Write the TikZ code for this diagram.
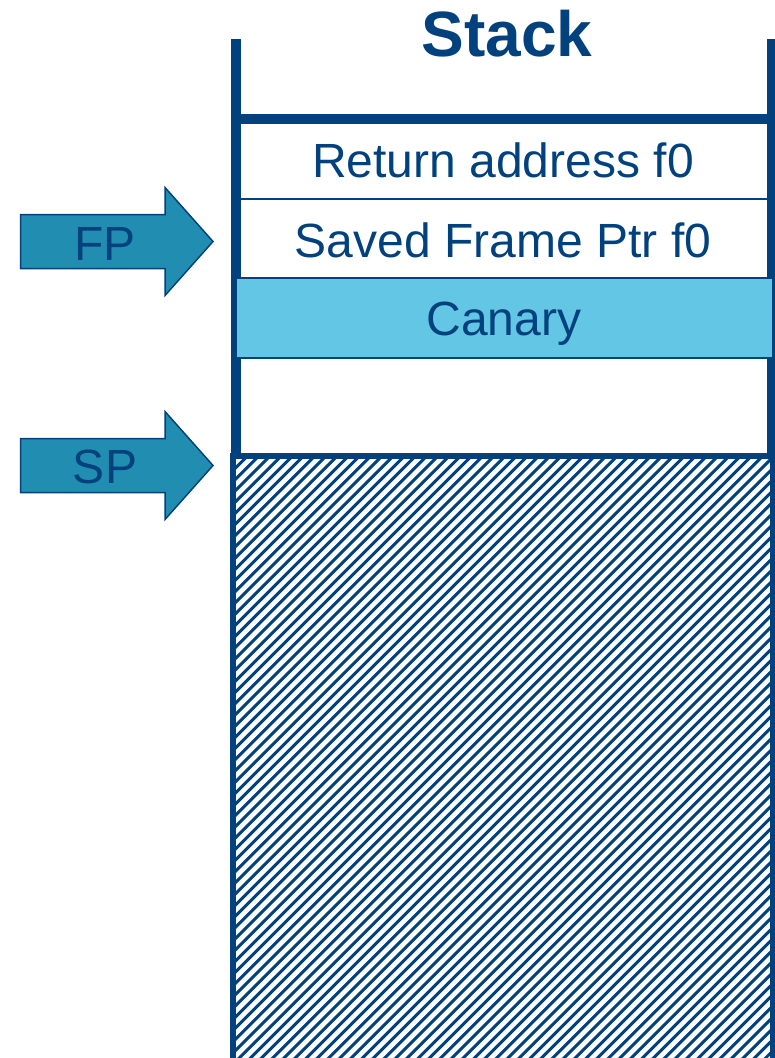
\documentclass[tikz,border=0pt]{standalone}
\usepackage{fontspec}
\setmainfont{Liberation Sans}
\definecolor{navy}{RGB}{0,65,126}
\definecolor{ptrfill}{RGB}{33,142,177}
\definecolor{canaryfill}{RGB}{98,198,228}
\begin{document}
\begin{tikzpicture}[x=1pt,y=-1pt,
  wall/.style={draw=navy, line width=10pt},
  divider/.style={draw=navy, line width=2pt},
  hatchline/.style={draw=navy, line width=3pt},
  cell/.style={rectangle, inner sep=0pt, outer sep=0pt},
  lbl/.style={text=navy, font=\fontsize{48}{56}\selectfont, inner sep=0pt, anchor=base},
  ptr/.style={draw=navy, line width=1.5pt, fill=ptrfill, line join=miter},
]
\useasboundingbox (0,0) rectangle (775,1058);

% unused (free) region below the stack pointer
\begin{scope}
  \clip (233,456) rectangle (773,1070);
  \foreach \a in {-400,-388.8,...,790} {
    \draw[hatchline] (\a,1070) -- ({\a+620},450);
  }
\end{scope}
\draw[navy, line width=6pt] (233,1075) -- (233,456) -- (773,456) -- (773,1075);

% stack walls and top of frame
\draw[wall] (235.5,39) -- (235.5,459);
\draw[wall] (772,39) -- (772,459);
\draw[wall] (235.5,119) -- (772,119);

% frame slots
\draw[divider] (240,199) -- (767,199);
\node[cell, draw=navy, line width=2pt, fill=canaryfill,
      minimum width=537pt, minimum height=80pt] (canarycell) at (504.5,318) {};

% pointer arrows
\draw[ptr, shift={(0,241.5)}] (20.5,-27) -- (165,-27) -- (165,-54) -- (213,0)
  -- (165,54) -- (165,27) -- (20.5,27) -- cycle;
\draw[ptr, shift={(0,465.5)}] (20.5,-27) -- (165,-27) -- (165,-54) -- (213,0)
  -- (165,54) -- (165,27) -- (20.5,27) -- cycle;

% labels
\node[lbl, font=\fontsize{64}{72}\selectfont\bfseries] (title) at (507,56) {Stack};
\node[lbl] (ret) at (503,177) {Return address f0};
\node[lbl] (sfp) at (503,257) {Saved Frame Ptr f0};
\node[lbl] (can) at (504,335) {Canary};
\node[lbl] (fp) at (105,260) {FP};
\node[lbl] (sp) at (105,483) {SP};
\end{tikzpicture}
\end{document}
